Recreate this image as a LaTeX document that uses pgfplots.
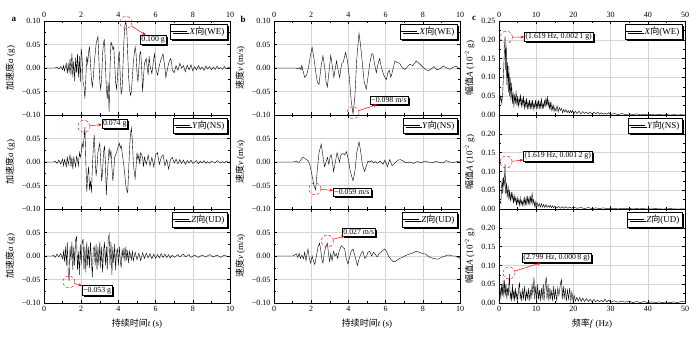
\documentclass[border=0pt]{standalone}
\usepackage{fontspec}
\setmainfont{Liberation Serif}
\newfontfamily\cjkfont{Noto Sans CJK SC}
\newcommand{\cjk}[1]{{\cjkfont #1}}
\usepackage{pgfplots}
\pgfplotsset{compat=1.18}
\usetikzlibrary{shadows,arrows.meta}

\pgfplotsset{
  base/.style={
    scale only axis, width=186pt, height=94pt, anchor=south west, clip=false,
    grid=major, major grid style={black!17, line width=0.4pt},
    axis line style={line width=0.6pt},
    tick style={black, line width=0.5pt}, major tick length=3pt, minor tick length=1.6pt,
    minor x tick num=1, minor y tick num=1,
    ticklabel style={font=\fontsize{8}{9}\selectfont},
    label style={font=\fontsize{9}{10}\selectfont},
    /pgf/number format/assume math mode=true,
    cycle list={{black, mark=none, line width=1pt, line join=round}},
    legend style={at={(0.985,0.965)}, anchor=north east, draw=black, line width=0.4pt,
      fill=white, inner sep=0.6pt, font=\fontsize{9}{9.5}\selectfont,
      drop shadow={shadow xshift=1.8pt, shadow yshift=-1.8pt, fill=black, opacity=1},
      cells={anchor=west}},
    legend image code/.code={\draw[#1, line width=0.7pt] (0pt,0pt) -- (16pt,0pt);},
  },
  colab/.style={base, xmin=0, xmax=10, xtick={0,2,4,6,8,10}, ymin=-0.1, ymax=0.1},
  colc/.style={base, xmin=0, xmax=50, xtick={0,10,20,30,40,50}, ymin=0, ymax=0.25},
  toprow/.style={xticklabel pos=upper, xtick pos=both},
  midrow/.style={xticklabels={}},
  fullab/.style={ytick={-0.1,-0.05,0,0.05,0.1}, yticklabels={−0.10,−0.05,0.00,0.05,0.10}},
  partab/.style={ytick={-0.1,-0.05,0,0.05}, yticklabels={−0.10,−0.05,0.00,0.05}},
  fullc/.style={ytick={0,0.05,0.1,0.15,0.2,0.25}, yticklabels={0.00,0.05,0.10,0.15,0.20,0.25}},
  partc/.style={ytick={0,0.05,0.1,0.15,0.2}, yticklabels={0.00,0.05,0.10,0.15,0.20}},
}

% peak marker: circle position, label position, label text
\newcommand{\peaknote}[3]{%
  \node[circle, draw=red, densely dashed, line width=0.4pt, minimum size=12pt, inner sep=0pt] (pc) at (axis cs:#1) {};
  \node[draw=black, fill=white, line width=0.4pt, inner sep=1.2pt, anchor=west,
    font=\fontsize{7.8}{8}\selectfont,
    drop shadow={shadow xshift=1.8pt, shadow yshift=-1.8pt, fill=black, opacity=1}] (pl) at (axis cs:#2) {#3};
  \draw[red, line width=0.5pt, -{Stealth[length=3.5pt,width=3pt]}] (pc) -- (pl);}

\begin{document}
\begin{tikzpicture}
\path[use as bounding box] (0,0) rectangle (700pt,337pt);

\node[font=\bfseries\fontsize{9}{10}\selectfont] at (14pt,318pt) {a};
\node[font=\bfseries\fontsize{9}{10}\selectfont] at (243pt,318pt) {b};
\node[font=\bfseries\fontsize{9}{10}\selectfont] at (474pt,319pt) {c};

% ---- column a: acceleration ----
\begin{axis}[colab, toprow, fullab, at={(44pt,222pt)}, ylabel={\cjk{加速度}\textit{a} (g)}]
\addplot coordinates {(0,0)(0.6,0)(0.7,0.002)(0.8,-0.002)(0.9,0.003)(1.0,-0.004)(1.05,0.005)(1.1,-0.006)(1.2,0.01)(1.25,-0.012)(1.3,0.008)(1.35,-0.01)(1.4,0.02)(1.45,-0.015)(1.5,0.031)(1.55,-0.02)(1.6,0.015)(1.65,-0.028)(1.7,0.022)(1.75,-0.01)(1.8,0.03)(1.85,-0.02)(1.9,0.025)(1.95,-0.03)(2.0,0.041)(2.05,0.02)(2.1,-0.03)(2.15,-0.04)(2.2,-0.065)(2.25,-0.02)(2.3,0.025)(2.35,0.01)(2.4,0.035)(2.45,0.044)(2.5,0.01)(2.55,-0.025)(2.6,-0.04)(2.65,-0.02)(2.7,0.01)(2.75,0.03)(2.8,0.05)(2.85,0.06)(2.9,0.067)(2.95,0.02)(3.0,-0.03)(3.05,-0.045)(3.1,-0.02)(3.15,0.03)(3.2,0.055)(3.25,0.06)(3.3,0.01)(3.35,-0.04)(3.4,-0.065)(3.45,-0.03)(3.5,-0.094)(3.55,0.0)(3.6,0.055)(3.65,0.05)(3.7,0.04)(3.75,0.045)(3.8,0.01)(3.85,-0.03)(3.9,-0.045)(3.95,-0.02)(4.0,0.02)(4.05,0.035)(4.1,-0.02)(4.15,-0.055)(4.2,-0.045)(4.25,0.01)(4.3,0.06)(4.35,0.09)(4.4,0.1)(4.45,0.08)(4.5,0.03)(4.55,-0.02)(4.6,-0.045)(4.65,-0.058)(4.7,-0.05)(4.75,-0.02)(4.8,0.01)(4.85,0.03)(4.9,0.045)(4.95,0.03)(5.0,-0.01)(5.05,-0.03)(5.1,0.0)(5.15,0.03)(5.2,0.035)(5.25,0.0)(5.3,-0.05)(5.35,-0.02)(5.4,0.01)(5.5,0.02)(5.55,0.0)(5.6,-0.015)(5.65,0.025)(5.7,0.005)(5.8,-0.012)(5.9,0.02)(5.95,0.03)(6.0,0.0)(6.1,-0.015)(6.2,0.005)(6.3,0.02)(6.4,0.03)(6.5,0.0)(6.55,-0.02)(6.6,-0.01)(6.7,0.01)(6.8,0.02)(6.85,0.015)(6.9,-0.005)(7.0,-0.01)(7.1,0.005)(7.2,-0.005)(7.3,0.01)(7.4,0.0)(7.5,0.005)(7.6,-0.008)(7.7,0.006)(7.8,-0.004)(7.9,0.007)(8.0,-0.006)(8.1,0.003)(8.2,-0.004)(8.3,0.005)(8.4,-0.003)(8.5,0.002)(8.6,-0.005)(8.7,0.004)(8.8,-0.002)(8.9,0.003)(9.0,-0.004)(9.1,0.002)(9.2,-0.003)(9.3,0.004)(9.4,-0.002)(9.5,0.001)(9.6,-0.003)(9.7,0.003)(9.8,-0.002)(9.9,0.001)(10,0.002)};
\addlegendentry{\textit{X}\cjk{向}(WE)}
\peaknote{4.4,0.097}{5.16,0.06}{0.100 g}
\end{axis}

\begin{axis}[colab, midrow, partab, at={(44pt,128pt)}, ylabel={\cjk{加速度}\textit{a} (g)}]
\addplot coordinates {(0,0)(0.5,0)(0.6,0.002)(0.7,-0.003)(0.8,0.004)(0.9,-0.004)(1.0,0.006)(1.05,-0.008)(1.1,0.005)(1.2,-0.01)(1.25,0.012)(1.3,-0.006)(1.4,0.015)(1.45,-0.01)(1.5,0.01)(1.55,-0.015)(1.6,0.01)(1.7,-0.01)(1.75,0.012)(1.8,0.005)(1.85,-0.008)(1.9,0.02)(1.95,0.01)(2.0,0.02)(2.05,0.04)(2.1,0.03)(2.15,0.05)(2.2,0.074)(2.25,0.0)(2.3,-0.063)(2.35,-0.03)(2.4,-0.01)(2.45,-0.06)(2.5,-0.04)(2.55,-0.065)(2.6,-0.01)(2.65,0.03)(2.7,0.058)(2.75,0.01)(2.8,-0.03)(2.85,-0.01)(2.9,0.02)(3.0,0.04)(3.05,0.0)(3.1,-0.04)(3.15,-0.02)(3.2,0.02)(3.25,0.035)(3.3,0.0)(3.35,-0.07)(3.4,-0.03)(3.45,0.0)(3.5,0.03)(3.55,0.01)(3.6,0.025)(3.65,-0.01)(3.7,-0.04)(3.75,-0.02)(3.8,0.01)(3.9,0.02)(4.0,0.035)(4.05,0.04)(4.1,0.03)(4.15,0.035)(4.2,0.02)(4.3,-0.01)(4.35,-0.03)(4.4,-0.05)(4.45,-0.06)(4.5,-0.065)(4.55,-0.02)(4.6,0.03)(4.65,0.06)(4.7,0.072)(4.75,0.045)(4.8,0.0)(4.85,-0.02)(4.9,-0.035)(4.95,-0.01)(5.0,0.02)(5.05,0.005)(5.1,0.015)(5.15,-0.005)(5.2,0.02)(5.3,0.01)(5.35,-0.01)(5.4,0.01)(5.5,-0.005)(5.6,0.015)(5.7,-0.008)(5.8,0.01)(5.9,-0.01)(6.0,0.015)(6.1,0.02)(6.2,-0.005)(6.3,0.01)(6.4,0.015)(6.5,-0.008)(6.6,0.005)(6.7,-0.015)(6.8,0.005)(6.9,0.01)(7.0,-0.002)(7.1,0.006)(7.2,-0.004)(7.3,0.005)(7.4,-0.003)(7.5,0.004)(7.6,-0.005)(7.7,0.003)(7.8,-0.002)(7.9,0.004)(8.0,-0.003)(8.2,0.003)(8.3,-0.004)(8.4,0.002)(8.5,-0.002)(8.6,0.003)(8.7,-0.003)(8.8,0.001)(8.9,-0.003)(9.0,0.002)(9.2,-0.002)(9.3,0.003)(9.5,-0.002)(9.6,0.001)(9.7,-0.002)(9.8,0.002)(9.9,-0.001)(10,0.0)};
\addlegendentry{\textit{Y}\cjk{向}(NS)}
\peaknote{2.15,0.076}{3.1,0.082}{0.074 g}
\end{axis}

\begin{axis}[colab, partab, at={(44pt,34pt)}, ylabel={\cjk{加速度}\textit{a} (g)}, xlabel={\cjk{持续时间}\textit{t} (s)}]
\addplot coordinates {(0,0)(0.45,0)(0.5,0.002)(0.6,-0.003)(0.7,0.004)(0.8,-0.002)(0.9,0.005)(1.0,-0.006)(1.05,0.01)(1.1,-0.012)(1.15,0.02)(1.2,-0.02)(1.25,0.03)(1.3,-0.035)(1.35,-0.053)(1.4,0.02)(1.45,-0.01)(1.5,0.03)(1.55,-0.03)(1.6,0.02)(1.65,-0.02)(1.7,0.035)(1.75,0.041)(1.8,-0.03)(1.85,0.01)(1.9,-0.04)(1.95,0.025)(2.0,-0.02)(2.05,0.03)(2.1,0.035)(2.15,-0.03)(2.2,0.02)(2.25,-0.035)(2.3,0.03)(2.35,-0.02)(2.4,0.02)(2.45,-0.025)(2.5,0.03)(2.55,-0.01)(2.6,-0.045)(2.65,0.015)(2.7,0.02)(2.75,-0.02)(2.8,0.025)(2.85,-0.03)(2.9,0.02)(2.95,-0.02)(3.0,0.03)(3.05,-0.025)(3.1,0.02)(3.15,-0.035)(3.2,0.01)(3.25,0.03)(3.3,-0.02)(3.35,0.02)(3.4,-0.03)(3.45,0.035)(3.5,0.046)(3.55,-0.02)(3.6,0.03)(3.65,-0.04)(3.7,0.02)(3.75,-0.015)(3.8,0.025)(3.85,-0.03)(3.9,0.01)(3.95,0.015)(4.0,-0.02)(4.05,0.02)(4.1,-0.01)(4.15,-0.025)(4.2,0.015)(4.25,-0.005)(4.3,0.018)(4.35,-0.012)(4.4,0.02)(4.45,-0.01)(4.5,0.012)(4.55,-0.015)(4.6,0.01)(4.7,-0.008)(4.75,0.012)(4.8,-0.01)(4.9,0.008)(5.0,-0.008)(5.1,0.006)(5.2,-0.01)(5.3,0.007)(5.4,-0.005)(5.5,0.006)(5.6,-0.004)(5.7,0.005)(5.8,-0.006)(5.9,0.004)(6.0,-0.005)(6.1,0.003)(6.2,-0.004)(6.3,0.005)(6.4,-0.003)(6.5,0.004)(6.6,-0.003)(6.7,0.003)(6.8,-0.004)(6.9,0.002)(7.0,-0.003)(7.2,0.003)(7.3,-0.002)(7.5,0.004)(7.6,-0.002)(7.8,0.003)(7.9,-0.003)(8.1,0.002)(8.3,-0.003)(8.5,0.002)(8.7,-0.002)(8.9,0.003)(9.1,-0.002)(9.3,0.002)(9.5,-0.003)(9.7,0.002)(9.9,-0.002)(10,0.0)};
\addlegendentry{\textit{Z}\cjk{向}(UD)}
\peaknote{1.34,-0.055}{2.04,-0.073}{−0.053 g}
\end{axis}

% ---- column b: velocity ----
\begin{axis}[colab, toprow, fullab, at={(274pt,222pt)}, ylabel={\cjk{速度}\textit{v} (m/s)}]
\addplot coordinates {(0,0)(1.2,0)(1.3,-0.002)(1.4,0.001)(1.45,-0.004)(1.5,0.006)(1.55,-0.005)(1.6,-0.012)(1.65,-0.02)(1.75,-0.015)(1.85,0.0)(1.95,0.025)(2.05,0.044)(2.15,0.02)(2.25,-0.01)(2.33,-0.03)(2.42,-0.035)(2.52,0.0)(2.63,0.026)(2.73,0.0)(2.8,-0.03)(2.87,-0.04)(2.95,-0.01)(3.05,0.027)(3.15,0.0)(3.22,-0.02)(3.3,0.0)(3.36,0.015)(3.45,-0.005)(3.53,-0.02)(3.6,0.0)(3.65,0.01)(3.72,0.012)(3.85,0.033)(3.95,0.015)(4.05,-0.02)(4.15,-0.07)(4.25,-0.098)(4.35,-0.06)(4.45,0.02)(4.57,0.074)(4.65,0.05)(4.75,0.01)(4.85,-0.03)(4.96,-0.045)(5.05,-0.02)(5.15,0.01)(5.25,0.03)(5.32,0.03)(5.4,0.01)(5.5,-0.01)(5.6,0.01)(5.68,0.02)(5.78,0.0)(5.9,-0.015)(6.04,-0.025)(6.12,-0.01)(6.2,-0.005)(6.28,-0.02)(6.35,-0.01)(6.5,0.015)(6.6,0.012)(6.76,0.01)(6.9,0.0)(7.05,-0.003)(7.3,0.008)(7.45,0.005)(7.65,0.015)(7.85,0.008)(8.0,0.002)(8.15,-0.003)(8.3,-0.006)(8.45,-0.002)(8.6,0.003)(8.75,-0.004)(8.9,-0.002)(9.1,0.004)(9.3,0.0)(9.45,-0.003)(9.6,0.001)(9.8,0.004)(10,-0.003)};
\addlegendentry{\textit{X}\cjk{向}(WE)}
\peaknote{4.25,-0.095}{5.16,-0.069}{−0.098 m/s}
\end{axis}

\begin{axis}[colab, midrow, partab, at={(274pt,128pt)}, ylabel={\cjk{速度}\textit{v} (m/s)}]
\addplot coordinates {(0,0)(1.0,0)(1.2,0.001)(1.35,-0.001)(1.45,0.005)(1.55,0.01)(1.65,0.008)(1.75,0.005)(1.85,0.002)(1.95,-0.01)(2.05,-0.03)(2.15,-0.05)(2.24,-0.059)(2.32,-0.02)(2.42,0.02)(2.54,0.038)(2.62,0.015)(2.72,-0.01)(2.8,0.0)(2.87,0.01)(2.95,-0.005)(3.02,0.012)(3.08,0.015)(3.14,0.0)(3.2,-0.02)(3.3,0.0)(3.39,0.02)(3.45,0.01)(3.52,0.0)(3.6,0.015)(3.7,0.018)(3.8,0.015)(3.9,0.022)(4.0,0.005)(4.1,-0.02)(4.25,-0.04)(4.35,-0.02)(4.45,0.02)(4.57,0.043)(4.65,0.025)(4.75,-0.005)(4.87,-0.02)(4.97,-0.008)(5.05,0.002)(5.15,0.0)(5.25,0.003)(5.35,-0.002)(5.45,0.001)(5.55,-0.003)(5.7,0.002)(5.86,-0.005)(5.96,0.004)(6.1,-0.01)(6.22,0.005)(6.35,-0.008)(6.5,-0.002)(6.65,0.004)(6.8,0.005)(6.95,0.002)(7.1,-0.002)(7.3,0.0)(7.5,-0.003)(7.7,0.001)(7.9,-0.002)(8.1,0.002)(8.3,0.0)(8.5,-0.002)(8.7,0.001)(8.9,-0.001)(9.1,-0.002)(9.25,0.003)(9.45,0.0)(9.65,-0.001)(9.85,0.001)(10,0.0)};
\addlegendentry{\textit{Y}\cjk{向}(NS)}
\peaknote{2.2,-0.057}{3.17,-0.064}{−0.059 m/s}
\end{axis}

\begin{axis}[colab, partab, at={(274pt,34pt)}, ylabel={\cjk{速度}\textit{v} (m/s)}, xlabel={\cjk{持续时间}\textit{t} (s)}]
\addplot coordinates {(0,0)(1.0,0)(1.1,0.002)(1.2,0.005)(1.28,-0.003)(1.35,0.006)(1.42,-0.005)(1.5,0.002)(1.58,-0.006)(1.65,0.008)(1.72,-0.01)(1.78,0.005)(1.83,0.015)(1.9,-0.005)(1.97,-0.015)(2.05,0.0)(2.12,-0.01)(2.19,-0.018)(2.28,0.0)(2.37,0.02)(2.45,0.027)(2.52,0.01)(2.58,-0.008)(2.63,-0.015)(2.7,0.005)(2.78,0.02)(2.87,0.027)(2.93,0.005)(2.99,-0.012)(3.05,0.005)(3.12,-0.01)(3.2,0.01)(3.28,0.0)(3.35,0.005)(3.42,-0.005)(3.5,0.01)(3.62,0.022)(3.72,0.018)(3.8,0.015)(3.88,-0.005)(3.98,-0.017)(4.08,0.0)(4.15,0.01)(4.25,0.015)(4.35,0.0)(4.48,-0.02)(4.58,-0.005)(4.68,0.005)(4.78,0.01)(4.88,-0.005)(4.98,0.0)(5.05,0.008)(5.14,0.01)(5.25,0.0)(5.35,0.008)(5.45,0.003)(5.55,-0.002)(5.65,0.005)(5.75,0.008)(5.86,0.012)(5.95,0.015)(6.05,0.01)(6.15,0.0)(6.3,-0.008)(6.42,-0.012)(6.5,-0.012)(6.65,-0.008)(6.76,-0.005)(6.9,-0.003)(7.03,0.0)(7.2,0.003)(7.35,0.005)(7.5,0.007)(7.65,0.01)(7.8,0.008)(8.0,0.005)(8.15,0.004)(8.28,0.0)(8.4,-0.003)(8.55,-0.005)(8.7,-0.006)(8.8,-0.007)(9.0,-0.003)(9.2,0.0)(9.35,0.002)(9.45,0.002)(9.6,0.0)(9.75,0.0)(9.9,-0.003)(10,-0.005)};
\addlegendentry{\textit{Z}\cjk{向}(UD)}
\peaknote{2.87,0.032}{3.66,0.051}{0.027 m/s}
\end{axis}

% ---- column c: Fourier amplitude ----
\begin{axis}[colc, toprow, fullc, at={(499pt,222pt)}, ylabel={\cjk{幅值}\textit{A} (10\textsuperscript{−2} g)}]
\addplot coordinates {(0,0.02)(0.25,0.035)(0.5,0.05)(0.75,0.03)(1.0,0.06)(1.25,0.12)(1.45,0.17)(1.62,0.21)(1.8,0.12)(1.95,0.185)(2.1,0.08)(2.3,0.14)(2.5,0.06)(2.65,0.13)(2.85,0.05)(3.0,0.1)(3.2,0.04)(3.4,0.085)(3.6,0.03)(3.8,0.06)(4.0,0.02)(4.2,0.055)(4.4,0.03)(4.6,0.065)(4.8,0.025)(5.0,0.05)(5.2,0.02)(5.4,0.045)(5.6,0.03)(5.8,0.055)(6.0,0.02)(6.2,0.045)(6.4,0.025)(6.6,0.05)(6.8,0.015)(7.0,0.04)(7.2,0.02)(7.4,0.045)(7.6,0.015)(7.8,0.035)(8.0,0.02)(8.2,0.04)(8.4,0.015)(8.6,0.035)(8.8,0.02)(9.0,0.04)(9.2,0.015)(9.4,0.03)(9.6,0.02)(9.8,0.04)(10.0,0.015)(10.2,0.035)(10.4,0.02)(10.6,0.04)(10.8,0.015)(11.0,0.035)(11.2,0.02)(11.4,0.045)(11.6,0.015)(11.8,0.03)(12.0,0.02)(12.2,0.04)(12.4,0.02)(12.6,0.045)(12.8,0.025)(13.0,0.05)(13.2,0.02)(13.4,0.04)(13.6,0.015)(13.8,0.035)(14.0,0.01)(14.2,0.03)(14.4,0.015)(14.6,0.025)(14.8,0.01)(15.0,0.02)(15.3,0.01)(15.6,0.025)(15.9,0.008)(16.2,0.02)(16.5,0.012)(16.8,0.018)(17.1,0.006)(17.4,0.015)(17.7,0.008)(18.0,0.014)(18.3,0.006)(18.6,0.012)(18.9,0.005)(19.2,0.012)(19.5,0.006)(19.8,0.012)(20.1,0.004)(20.5,0.01)(21.0,0.004)(21.5,0.01)(22.0,0.003)(22.5,0.009)(23.0,0.004)(23.5,0.008)(24.0,0.003)(24.5,0.008)(25.0,0.002)(25.5,0.007)(26.0,0.003)(26.5,0.008)(27.0,0.002)(27.5,0.006)(28.0,0.002)(28.5,0.005)(29.0,0.002)(29.5,0.006)(30.0,0.001)(31,0.004)(32,0.001)(33,0.004)(34,0.001)(35,0.003)(36,0.001)(37,0.003)(38,0.0005)(39,0.002)(40,0.0005)(41,0.002)(42,0.0)(43,0.002)(44,0.0)(45,0.0015)(46,0.0)(47,0.001)(48,0.0)(49,0.001)(50,0.0)};
\addlegendentry{\textit{X}\cjk{向}(WE)}
\peaknote{2.0,0.207}{6.76,0.208}{(1.619 Hz, 0.002\,1 g)}
\end{axis}

\begin{axis}[colc, midrow, partc, at={(499pt,128pt)}, ylabel={\cjk{幅值}\textit{A} (10\textsuperscript{−2} g)}]
\addplot coordinates {(0,0.01)(0.25,0.02)(0.5,0.015)(0.7,0.06)(0.85,0.08)(1.0,0.04)(1.2,0.085)(1.4,0.06)(1.62,0.12)(1.8,0.04)(2.0,0.07)(2.2,0.03)(2.45,0.062)(2.65,0.025)(2.85,0.05)(3.05,0.02)(3.3,0.045)(3.5,0.025)(3.7,0.04)(3.9,0.015)(4.1,0.035)(4.3,0.02)(4.5,0.03)(4.7,0.01)(4.9,0.03)(5.1,0.015)(5.3,0.025)(5.5,0.01)(5.7,0.03)(5.9,0.012)(6.1,0.022)(6.3,0.01)(6.5,0.025)(6.7,0.01)(6.9,0.03)(7.1,0.012)(7.3,0.03)(7.5,0.01)(7.7,0.035)(7.9,0.015)(8.1,0.03)(8.3,0.01)(8.5,0.035)(8.7,0.015)(8.9,0.044)(9.1,0.015)(9.3,0.025)(9.5,0.008)(9.7,0.02)(9.9,0.006)(10.2,0.018)(10.5,0.006)(10.8,0.015)(11.1,0.005)(11.4,0.014)(11.7,0.005)(12.0,0.012)(12.3,0.004)(12.6,0.012)(12.9,0.004)(13.2,0.01)(13.5,0.004)(13.8,0.01)(14.1,0.003)(14.4,0.009)(14.7,0.003)(15.0,0.008)(15.5,0.003)(16.0,0.007)(16.5,0.002)(17.0,0.006)(17.5,0.002)(18.0,0.006)(18.5,0.002)(19.0,0.005)(19.5,0.002)(20.0,0.005)(21,0.002)(22,0.004)(23,0.001)(24,0.004)(25,0.001)(26,0.003)(27,0.001)(28,0.003)(29,0.001)(30,0.002)(32,0.0005)(34,0.002)(36,0.0005)(38,0.0015)(40,0.0)(42,0.001)(44,0.0)(46,0.001)(48,0.0)(50,0.0005)};
\addlegendentry{\textit{Y}\cjk{向}(NS)}
\peaknote{1.9,0.125}{6.5,0.141}{(1.619 Hz, 0.001\,2 g)}
\end{axis}

\begin{axis}[colc, partc, at={(499pt,34pt)}, ylabel={\cjk{幅值}\textit{A} (10\textsuperscript{−2} g)}, xlabel={\cjk{频率}\textit{f} (Hz)}]
\addplot coordinates {(0,0.005)(0.3,0.04)(0.5,0.01)(0.7,0.05)(0.9,0.02)(1.1,0.06)(1.3,0.015)(1.5,0.06)(1.7,0.02)(1.9,0.05)(2.1,0.01)(2.3,0.04)(2.5,0.02)(2.8,0.077)(3.0,0.01)(3.2,0.03)(3.4,0.005)(3.6,0.05)(3.8,0.01)(4.0,0.035)(4.2,0.005)(4.4,0.04)(4.6,0.01)(4.8,0.03)(5.0,0.005)(5.3,0.04)(5.5,0.055)(5.7,0.01)(5.9,0.03)(6.1,0.005)(6.4,0.04)(6.6,0.01)(6.9,0.045)(7.1,0.005)(7.4,0.03)(7.6,0.01)(7.9,0.04)(8.1,0.005)(8.4,0.035)(8.6,0.01)(8.9,0.05)(9.1,0.02)(9.4,0.068)(9.6,0.01)(9.9,0.045)(10.1,0.005)(10.4,0.05)(10.6,0.01)(10.9,0.035)(11.1,0.005)(11.4,0.04)(11.6,0.01)(11.9,0.05)(12.1,0.005)(12.4,0.045)(12.7,0.07)(12.9,0.01)(13.2,0.05)(13.4,0.005)(13.7,0.04)(13.9,0.01)(14.2,0.035)(14.4,0.005)(14.7,0.045)(14.9,0.01)(15.2,0.035)(15.5,0.005)(15.8,0.04)(16.1,0.02)(16.5,0.05)(16.8,0.063)(17.0,0.01)(17.3,0.045)(17.5,0.01)(17.8,0.04)(18.1,0.005)(18.4,0.035)(18.7,0.01)(19.0,0.04)(19.3,0.005)(19.6,0.03)(19.9,0.005)(20.2,0.02)(20.5,0.005)(20.9,0.015)(21.3,0.005)(21.7,0.015)(22.1,0.004)(22.5,0.013)(23.0,0.004)(23.5,0.012)(24.0,0.004)(24.5,0.01)(25.0,0.003)(25.5,0.01)(26.0,0.003)(26.5,0.008)(27.0,0.003)(27.5,0.007)(28.0,0.003)(28.5,0.01)(29.0,0.003)(29.5,0.008)(30,0.002)(31,0.006)(32,0.002)(33,0.005)(34,0.002)(35,0.005)(36,0.001)(37,0.004)(38,0.001)(39,0.004)(40,0.001)(41,0.003)(42,0.001)(43,0.003)(44,0.001)(45,0.003)(46,0.001)(47,0.003)(48,0.001)(49,0.004)(50,0.003)};
\addlegendentry{\textit{Z}\cjk{向}(UD)}
\peaknote{2.7,0.08}{6.2,0.12}{(2.799 Hz, 0.000\,8 g)}
\end{axis}
\end{tikzpicture}
\end{document}
